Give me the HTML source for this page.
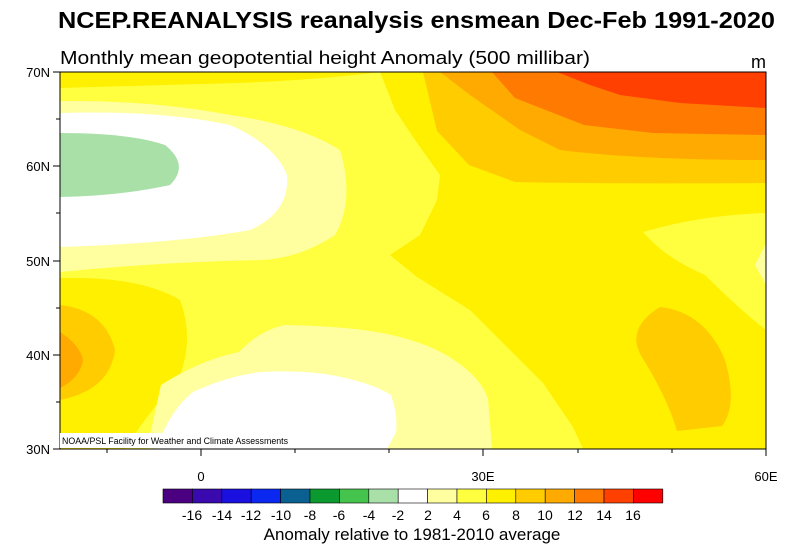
<!DOCTYPE html>
<html><head><meta charset="utf-8"><style>
html,body{margin:0;padding:0;background:#fff;}
svg{display:block;font-family:"Liberation Sans",sans-serif;}
</style></head><body>
<svg width="788" height="553" viewBox="0 0 788 553" xmlns="http://www.w3.org/2000/svg">
<text x="58" y="28" font-size="23" font-weight="bold" textLength="717" lengthAdjust="spacingAndGlyphs">NCEP.REANALYSIS reanalysis ensmean Dec-Feb 1991-2020</text>
<text x="60" y="64" font-size="18" textLength="530" lengthAdjust="spacingAndGlyphs">Monthly mean geopotential height Anomaly (500 millibar)</text>
<text x="751" y="68" font-size="18">m</text>
<defs><clipPath id="c"><rect x="60" y="72" width="706" height="377"/></clipPath></defs>
<g clip-path="url(#c)">
<rect x="60" y="72" width="706" height="377" fill="#ffff40"/>
<!-- east bright yellow -->
<path d="M380,72 L395,110 L415,140 L440,175 L437,200 L420,235 L390,255 L417,277 L470,310 L503,343 L543,383 L573,427 L583,449 L766,449 L766,72 Z" fill="#fff000"/>
<!-- top-left strip -->
<path d="M60,72 L380,72 Q300,82 200,84 L60,88 Z" fill="#fff000"/>
<!-- iberia -->
<path d="M60,278 Q140,276 180,300 Q195,340 178,380 Q150,410 125,449 L60,449 Z" fill="#fff000"/>
<path d="M60,305 Q105,310 115,350 Q110,390 60,400 Z" fill="#ffcc00"/>
<path d="M60,332 Q80,345 83,360 Q80,378 60,388 Z" fill="#ffaa00"/>
<!-- NE bands -->
<path d="M423,72 L437,131 L469,165 L515,182 Q600,184 766,183 L766,72 Z" fill="#ffcc00"/>
<path d="M440,72 L470,95 L520,130 L560,150 Q640,160 766,160 L766,72 Z" fill="#ffaa00"/>
<path d="M492,72 L515,98 L584,125 L653,133 L766,135 L766,72 Z" fill="#ff7a00"/>
<path d="M557,72 L590,85 L620,95 L680,103 L766,108 L766,72 Z" fill="#ff4000"/>
<!-- east light blob -->
<path d="M643,232 Q700,215 766,213 L766,330 Q740,310 705,275 Q665,258 643,232 Z" fill="#ffff40"/>
<path d="M766,243 L766,285 L755,265 Z" fill="#ffffa0"/>
<!-- caspian gold -->
<path d="M660,307 Q705,312 725,360 Q738,405 722,426 L677,431 Q668,400 645,362 Q622,330 660,307 Z" fill="#ffcc00"/>
<!-- NW very light & white & green -->
<path d="M60,101 Q150,100 230,115 Q300,125 340,150 Q355,200 335,235 Q300,258 262,260 Q160,262 60,272 Z" fill="#ffffa0"/>
<path d="M60,113 Q160,110 230,125 Q275,145 287,175 Q290,212 250,230 Q180,243 60,247 Z" fill="#ffffff"/>
<path d="M60,133 Q130,133 165,145 Q190,165 170,185 Q120,196 60,197 Z" fill="#a8e0a8"/>
<!-- med -->
<path d="M147,449 L161,385 Q200,360 239,352 Q260,330 285,325 Q340,326 377,332 Q420,340 446,355 Q480,375 488,399 L492,449 Z" fill="#ffffa0"/>
<path d="M156,449 Q170,410 193,392 Q230,375 262,372 Q300,370 331,375 Q370,382 391,395 Q398,415 396,432 L387,449 Z" fill="#ffffff"/>
</g>
<rect x="60" y="72" width="706" height="377" fill="none" stroke="#000" stroke-width="1"/>
<rect x="60" y="433" width="231" height="15" fill="#fff"/>
<text x="62" y="444" font-size="9" textLength="226" lengthAdjust="spacingAndGlyphs">NOAA/PSL Facility for Weather and Climate Assessments</text>
<g stroke="#000" stroke-width="1">
<line x1="60" y1="72" x2="53" y2="72"/><line x1="60" y1="166" x2="53" y2="166"/><line x1="60" y1="261" x2="53" y2="261"/><line x1="60" y1="355" x2="53" y2="355"/><line x1="60" y1="449" x2="53" y2="449"/>
<line x1="60" y1="119" x2="56" y2="119"/><line x1="60" y1="213" x2="56" y2="213"/><line x1="60" y1="308" x2="56" y2="308"/><line x1="60" y1="402" x2="56" y2="402"/>
<line x1="201" y1="449" x2="201" y2="456"/><line x1="483" y1="449" x2="483" y2="456"/><line x1="766" y1="449" x2="766" y2="456"/>
<line x1="107" y1="449" x2="107" y2="453"/><line x1="295" y1="449" x2="295" y2="453"/><line x1="389" y1="449" x2="389" y2="453"/><line x1="578" y1="449" x2="578" y2="453"/><line x1="672" y1="449" x2="672" y2="453"/>
</g>
<g font-size="13" text-anchor="end">
<text x="50" y="77">70N</text><text x="50" y="171">60N</text><text x="50" y="266">50N</text><text x="50" y="360">40N</text><text x="50" y="454">30N</text>
</g>
<g font-size="13" text-anchor="middle">
<text x="201" y="481">0</text><text x="483" y="481">30E</text><text x="766" y="481">60E</text>
</g>
<g stroke="#000" stroke-width="0.6">
<rect x="163" y="489" width="29.4" height="14" fill="#4b0082"/>
<rect x="192.4" y="489" width="29.4" height="14" fill="#3a0aaf"/>
<rect x="221.8" y="489" width="29.4" height="14" fill="#1a10e0"/>
<rect x="251.2" y="489" width="29.4" height="14" fill="#0a28f0"/>
<rect x="280.6" y="489" width="29.4" height="14" fill="#0a6090"/>
<rect x="310" y="489" width="29.4" height="14" fill="#0a9a30"/>
<rect x="339.4" y="489" width="29.4" height="14" fill="#44c44c"/>
<rect x="368.8" y="489" width="29.4" height="14" fill="#a8e0a8"/>
<rect x="398.2" y="489" width="29.4" height="14" fill="#ffffff"/>
<rect x="427.6" y="489" width="29.4" height="14" fill="#ffffa0"/>
<rect x="457" y="489" width="29.4" height="14" fill="#ffff40"/>
<rect x="486.4" y="489" width="29.4" height="14" fill="#fff000"/>
<rect x="515.8" y="489" width="29.4" height="14" fill="#ffcc00"/>
<rect x="545.2" y="489" width="29.4" height="14" fill="#ffaa00"/>
<rect x="574.6" y="489" width="29.4" height="14" fill="#ff7a00"/>
<rect x="604" y="489" width="29.4" height="14" fill="#ff4000"/>
<rect x="633.4" y="489" width="29.4" height="14" fill="#ff0000"/>
</g>
<g font-size="14" text-anchor="middle">
<text x="192" y="520">-16</text><text x="222" y="520">-14</text><text x="251" y="520">-12</text><text x="281" y="520">-10</text><text x="310" y="520">-8</text><text x="339" y="520">-6</text><text x="369" y="520">-4</text><text x="398" y="520">-2</text><text x="428" y="520">2</text><text x="457" y="520">4</text><text x="486" y="520">6</text><text x="516" y="520">8</text><text x="545" y="520">10</text><text x="575" y="520">12</text><text x="604" y="520">14</text><text x="633" y="520">16</text>
</g>
<text x="412" y="540" font-size="17" text-anchor="middle">Anomaly relative to 1981-2010 average</text>
</svg>
</body></html>
